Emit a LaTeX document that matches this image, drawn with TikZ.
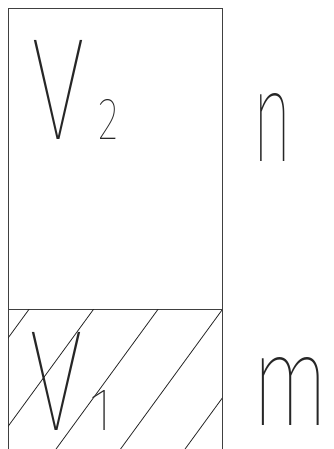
\documentclass[tikz,border=0pt]{standalone}
\usepackage{fontspec}
\usepackage{graphicx}
\IfFontExistsTF{FiraSans-Hair.otf}{\newfontfamily\cadfont{FiraSans-Hair.otf}}{%
 \IfFontExistsTF{Fira Sans Thin}{\newfontfamily\cadfont{Fira Sans Thin}}{%
  \IfFontExistsTF{Fira Sans Light}{\newfontfamily\cadfont{Fira Sans Light}}{%
   \newfontfamily\cadfont{Liberation Sans}}}}
\begin{document}
\begin{tikzpicture}[x=1pt,y=-1pt,
  frame/.style={draw=black!75,line width=1pt},
  hatchline/.style={draw=black!85,line width=0.8pt},
  cad/.style={inner sep=0pt,outer sep=0pt,text=black!85,font=\cadfont}]
\useasboundingbox (0,0) rectangle (333,449);
% frame corners
\coordinate (bl) at (8,449);
\coordinate (tl) at (8,9);
\coordinate (tr) at (222,9);
\coordinate (br) at (222,449);
\coordinate (ml) at (8,309);
\coordinate (mr) at (222,309);
\draw[frame] (bl) -- (tl) -- (tr) -- (br);
\draw[frame] (ml) -- (mr);
% hatching
\begin{scope}
\clip (ml) rectangle (br);
\foreach \c in {254.8,319.3,383.8,448.3,512.8}
  \draw[hatchline] ({\c-309/1.37},309) -- ({\c-449/1.37},449);
\end{scope}
% labels
\node[cad,anchor=south] (V2) at (58.3,140) {\resizebox{54pt}{99pt}{V}};
\node[cad,anchor=south] (s2) at (109,140) {\resizebox{20pt}{40pt}{2}};
\node[cad,anchor=south] (V1) at (56.5,430) {\resizebox{54pt}{98pt}{V}};
\node[cad,anchor=south] (s1) at (101,430.7) {\resizebox{!}{40pt}{1}};
\node[cad,anchor=south] (n) at (272.5,161) {\resizebox{40pt}{68pt}{n}};
\node[cad,anchor=south] (m) at (290.3,425) {\resizebox{78pt}{68pt}{m}};
\end{tikzpicture}
\end{document}
